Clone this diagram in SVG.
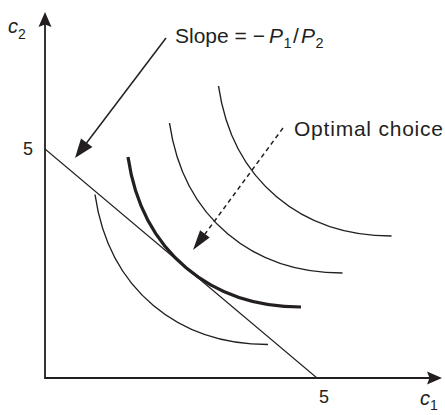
<svg xmlns="http://www.w3.org/2000/svg" width="445" height="415" viewBox="0 0 445 415">
<style>
  .t { font-family: "Liberation Sans", Arial, sans-serif; fill: #231f20; }
  .it { font-style: italic; }
  .axis { stroke: #231f20; stroke-width: 1.8; fill: none; }
  .ic { stroke: #231f20; stroke-width: 1.4; fill: none; }
  .ic-opt { stroke: #231f20; stroke-width: 3.2; fill: none; }
  .budget { stroke: #231f20; stroke-width: 1.1; fill: none; }
  .lead { stroke: #231f20; stroke-width: 1.5; fill: none; }
  .dash { stroke: #231f20; stroke-width: 1.5; fill: none; stroke-dasharray: 4.5 3.5; }
  .head { fill: #231f20; stroke: none; }
</style>
<rect width="445" height="415" fill="#ffffff"/>
<g id="axes">
  <path class="axis" d="M45,24 L45,378 L430,378"/>
  <path class="head" d="M45,12 L51.5,27 L45,24.5 L38.5,27 Z"/>
  <path class="head" d="M442,378 L427,371.5 L429.5,378 L427,384.5 Z"/>
  <text class="t it" x="8" y="33" font-size="20">c<tspan class="t" font-style="normal" font-size="14" dy="6">2</tspan></text>
  <text class="t it" x="420" y="405" font-size="20">c<tspan class="t" font-style="normal" font-size="14" dy="5">1</tspan></text>
  <text class="t" x="28" y="155" font-size="18" text-anchor="middle">5</text>
  <text class="t" x="324" y="403" font-size="18" text-anchor="middle">5</text>
</g>
<g id="budget-line">
  <path class="budget" d="M45,149 L317,378"/>
</g>
<g id="indifference-curves">
  <path id="ic1" class="ic" d="M95,194.5 C109,290.5 179,344.5 268,344.5"/>
  <path id="ic2" class="ic-opt" d="M128,157 C142,253 212,307 301,307"/>
  <path id="ic3" class="ic" d="M169.5,123 C183.5,219 253.5,273 342.5,273"/>
  <path id="ic4" class="ic" d="M218.5,86 C232.5,182 302.5,236 391.5,236"/>
</g>
<g id="slope-label">
  <text class="t" font-size="21" y="42.5"><tspan x="175">Slope = −</tspan><tspan class="it" x="269">P</tspan><tspan font-size="14.5" x="283.5" y="47.5">1</tspan><tspan x="293" y="42.5">/</tspan><tspan class="it" x="301">P</tspan><tspan font-size="14.5" x="315.5" y="47.5">2</tspan></text>
</g>
<g id="optimal-label">
  <text class="t" font-size="21" x="294" y="136" textLength="149" lengthAdjust="spacing">Optimal choice</text>
</g>
<g id="connectors">
  <path class="lead" d="M166,38 L86.5,143"/>
  <path class="head" d="M75,158 L92.4,147.1 L81,138.5 Z"/>
  <path class="dash" d="M283,128 L205,234"/>
  <path class="head" d="M193,250 L209.7,237.5 L200.1,230.3 Z"/>
</g>
</svg>
